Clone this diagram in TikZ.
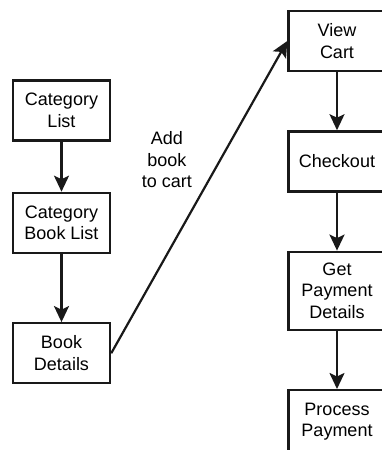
\documentclass[tikz,border=0pt]{standalone}
\usepackage{fontspec}
\setmainfont{Liberation Sans}
\usetikzlibrary{arrows.meta, positioning}

\begin{document}
\begin{tikzpicture}[
    x=1pt, y=1pt,
    page/.style={rectangle, draw=black!90, line width=2.4pt, minimum width=97pt, minimum height=60pt, align=center, inner sep=4pt, font=\fontsize{18}{21.5}\selectfont},
    arrow/.style={-{Stealth[length=16pt, width=15pt, inset=3.5pt]}, line width=2.2pt, draw=black!90},
    every node/.style={font=\fontsize{18}{21.5}\selectfont}
]
    \useasboundingbox (0,0) rectangle (382,450);
    \clip (0,0) rectangle (382,450);

    % browsing
    \node[page] (catlist) at (61.5,339.5) {Category\\List};
    \node[page, below=50pt of catlist] (catbooks) {Category\\Book List};
    \node[page, below=68pt of catbooks] (details) {Book\\Details};

    % checkout flow
    \node[page] (cart) at (337,409) {View\\Cart};
    \node[page, below=58pt of cart] (checkout) {Checkout};
    \node[page, below=58pt of checkout, minimum height=78pt] (payinfo) {Get\\Payment\\Details};
    \node[page, below=58pt of payinfo, minimum height=63pt] (process) {Process\\Payment};

    \draw[arrow] (catlist) -- (catbooks);
    \draw[arrow] (catbooks) -- (details);
    \draw[arrow] (details.east) -- node[pos=0.62, left=24pt, align=center] (addlbl) {Add\\book\\to cart} (cart.west);
    \draw[arrow] (cart) -- (checkout);
    \draw[arrow] (checkout) -- (payinfo);
    \draw[arrow] (payinfo) -- (process);
\end{tikzpicture}
\end{document}
